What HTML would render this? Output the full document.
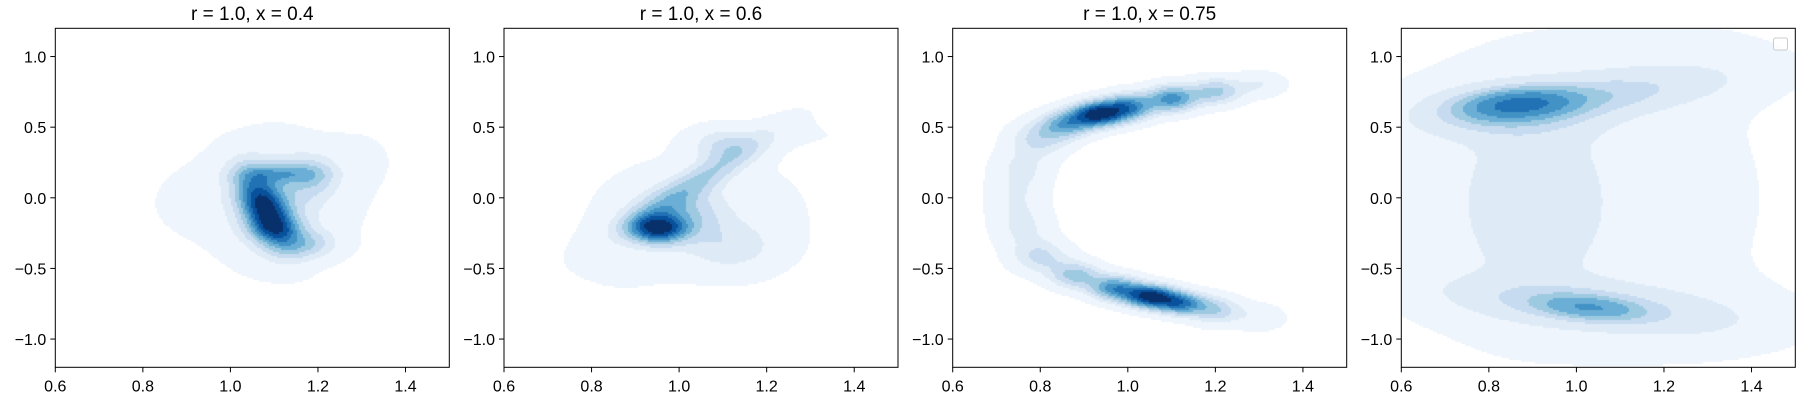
<!DOCTYPE html>
<html><head><meta charset="utf-8"><style>
body{margin:0;background:#fff;width:1800px;height:400px;overflow:hidden;font-family:"Liberation Sans","DejaVu Sans",sans-serif}
</style></head><body>
<svg id="fig" width="1800" height="400" xmlns="http://www.w3.org/2000/svg" style="position:absolute;left:0;top:0"></svg>
<script>
// data: blob components [cx, cy, sx, sy, angleDeg(data units), weight] per panel
const titles = ["r = 1.0, x = 0.4", "r = 1.0, x = 0.6", "r = 1.0, x = 0.75", ""];
const xTicks = [0.6, 0.8, 1.0, 1.2, 1.4];
const yTicks = [-1.0, -0.5, 0.0, 0.5, 1.0];
const comps1 = [[1.08,-0.08,0.17,0.035,-82,1.0],[1.1,-0.22,0.04,0.06,0,0.3],[1.11,0.17,0.06,0.05,0,0.4],[1.19,0.15,0.04,0.1,0,0.3],[1.17,-0.33,0.05,0.07,0,0.35],[1.1,-0.05,0.07,0.25,0,0.3],[1.1,0.0,0.17,0.32,0,0.09],[1.3,0.3,0.06,0.15,0,0.04],[0.9,-0.05,0.06,0.15,0,0.035]];
const comps2 = [[0.95,-0.22,0.045,0.07,0,1.0],[1.0,-0.12,0.07,0.12,0,0.35],[1.05,0.13,0.04,0.25,-25,0.38],[1.1,0.38,0.05,0.08,0,0.25],[1.12,-0.35,0.07,0.12,0,0.2],[1.05,-0.12,0.19,0.34,0,0.09],[1.3,0.45,0.1,0.08,0,0.035],[0.85,-0.45,0.08,0.15,0,0.05]];
const comps3 = [[1.3,0.8,0.04,0.06,0,0.15],[1.2,0.75,0.04,0.065,0,0.4],[1.1,0.7,0.04,0.065,0,0.65],[1.0,0.64,0.04,0.065,0,0.7],[0.93,0.59,0.04,0.06,0,1.0],[0.86,0.52,0.04,0.065,0,0.55],[0.8,0.42,0.045,0.08,0,0.3],[0.76,0.22,0.045,0.1,0,0.16],[0.745,0.0,0.045,0.12,0,0.14],[0.76,-0.22,0.045,0.1,0,0.16],[0.8,-0.42,0.045,0.08,0,0.28],[0.88,-0.55,0.04,0.065,0,0.42],[0.97,-0.64,0.04,0.06,0,0.65],[1.05,-0.7,0.04,0.055,0,1.0],[1.12,-0.75,0.04,0.055,0,0.7],[1.2,-0.8,0.04,0.065,0,0.35],[1.3,-0.85,0.04,0.065,0,0.12]];
const comps4 = [[0.87,0.66,0.08,0.06,27,1.0],[1.0,0.7,0.2,0.09,25,0.32],[0.85,0.6,0.12,0.12,0,0.25],[1.03,-0.78,0.08,0.05,-25,0.55],[1.02,-0.76,0.2,0.1,-20,0.28],[0.9,-0.05,0.1,0.4,0,0.13],[0.95,0.0,0.4,0.95,0,0.11],[1.3,0.95,0.2,0.2,0,0.05],[1.35,-0.9,0.2,0.2,0,0.05]];
const allComps = [comps1, comps2, comps3, comps4];
const levels = [0.03,0.13,0.22,0.32,0.42,0.52,0.62,0.72,0.84];
const levels4 = [0.035,0.09,0.18,0.27,0.38,0.55,0.8,1.5,2.0];
const colors = ["#eff5fc","#deebf7","#c6dbef","#9ecae1","#6baed6","#4292c6","#2171b5","#08519c","#08306b"];

const NS="http://www.w3.org/2000/svg", fig=document.getElementById('fig');
const W=394, T=28.3, B=367.3, X0=[55.3,504,952.7,1401.3];
const xs=(p,v)=>X0[p]+(v-0.6)/0.9*W, ys=v=>T+(1.2-v)/2.4*(B-T);
function el(t,a,parent){const e=document.createElementNS(NS,t);for(const k in a)e.setAttribute(k,a[k]);(parent||fig).appendChild(e);return e;}
function dens(c,x,y){let s=0;for(const [cx,cy,sx,sy,ang,w] of c){const a=ang*Math.PI/180,dx=x-cx,dy=y-cy,u=dx*Math.cos(a)+dy*Math.sin(a),v=-dx*Math.sin(a)+dy*Math.cos(a);s+=w*Math.exp(-0.5*(u*u/sx/sx+v*v/sy/sy));}return s;}
allComps.forEach((c,p)=>{
  const g=el('g',{});
  
  
  const fo=el('foreignObject',{x:X0[p],y:T,width:W,height:B-T},g);
  const cv=document.createElement('canvas');cv.width=W;cv.height=Math.round(B-T);
  
  
  fo.appendChild(cv);const ctx=cv.getContext('2d');
  const lv=p===3?levels4:levels;const step=2;
  let mx=0;const vals=[];
  for(let j=0;j<cv.height;j+=step){for(let i=0;i<W;i+=step){const x=0.6+(i+1)/W*0.9,y=1.2-(j+1)/cv.height*2.4;const d=dens(c,x,y);vals.push([i,j,d]);if(d>mx)mx=d;}}
  for(const [i,j,d] of vals){const r=d/mx;let k=-1;for(let q=0;q<lv.length;q++)if(r>=lv[q])k=q;if(k>=0){ctx.fillStyle=colors[k];ctx.fillRect(i,j,step,step);}}
  const fr=el('rect',{x:X0[p],y:T,width:W,height:B-T,fill:'none',stroke:'#000','stroke-width':1},g);
  
  
  xTicks.forEach(v=>{const x=xs(p,v);el('line',{x1:x,x2:x,y1:B,y2:B+5,stroke:'#000'},g);
    const t=el('text',{x:x,y:B+24,'text-anchor':'middle','font-size':16,fill:'#000'},g);t.textContent=v.toFixed(1);
    
    });
  yTicks.forEach(v=>{const y=ys(v);el('line',{x1:X0[p]-5,x2:X0[p],y1:y,y2:y,stroke:'#000'},g);
    const t=el('text',{x:X0[p]-9,y:y+6,'text-anchor':'end','font-size':16,fill:'#000'},g);t.textContent=(v<0?'\u2212':'')+Math.abs(v).toFixed(1);
    
    });
  if(titles[p]){const t=el('text',{x:X0[p]+W/2,y:20,'text-anchor':'middle','font-size':19,fill:'#000'},g);t.textContent=titles[p];
    
    }
});
const lg=el('rect',{x:1773.5,y:38,width:14,height:12,rx:2,fill:'#fff','fill-opacity':0.8,stroke:'#ccc'});


</script>
</body></html>
